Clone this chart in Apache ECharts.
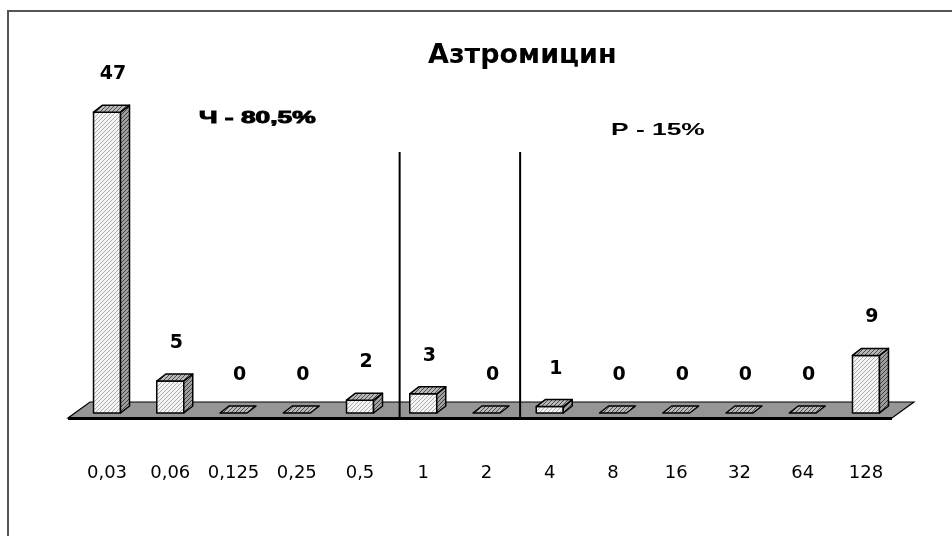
<!DOCTYPE html>
<html><head><meta charset="utf-8">
<script src="https://cdn.jsdelivr.net/npm/echarts@6/dist/echarts.min.js"></script>
<style>html,body{margin:0;padding:0;background:#fff}#c{width:952px;height:536px}</style>
</head><body><div id="c"></div>
<script>
const categories = ['0,03','0,06','0,125','0,25','0,5','1','2','4','8','16','32','64','128'];
const counts = [47, 5, 0, 0, 2, 3, 0, 1, 0, 0, 0, 0, 9];
const titleText = 'Азтромицин';
const noteS = 'Ч - 80,5%';
const noteR = 'Р - 15%';

function hatch(bg, fg, w) {
  const c = document.createElement('canvas');
  c.width = 4; c.height = 4;
  const g = c.getContext('2d');
  g.fillStyle = bg; g.fillRect(0, 0, 4, 4);
  g.strokeStyle = fg; g.lineWidth = w;
  g.beginPath();
  g.moveTo(-1, 5); g.lineTo(5, -1);
  g.moveTo(-1, 1); g.lineTo(1, -1);
  g.moveTo(3, 5); g.lineTo(5, 3);
  g.stroke();
  return { image: c, repeat: 'repeat' };
}
const frontFill = hatch('#f4f4f4', '#9c9c9c', 0.8);
const sideFill = hatch('#a0a0a0', '#333333', 0.9);
const topFill = hatch('#b8b8b8', '#404040', 0.9);

const chart = echarts.init(document.getElementById('c'));
const HW = 13.5, DX = 9, DY = 7;

chart.setOption({
  animation: false,
  backgroundColor: '#fff',
  title: {
    text: titleText, left: 428, top: 42, padding: 0,
    textStyle: { fontFamily: 'DejaVu Sans', fontWeight: 'bold', fontSize: 27, color: '#000' }
  },
  grid: { left: 75.4, right: 54.4, top: 93, bottom: 123 },
  xAxis: {
    type: 'category', data: categories, boundaryGap: true,
    axisLine: { show: false }, axisTick: { show: false }, splitLine: { show: false },
    axisLabel: { margin: 51, color: '#000', fontFamily: 'DejaVu Sans', fontSize: 18, interval: 0 }
  },
  yAxis: { type: 'value', min: 0, max: 50, show: false },
  graphic: [
    { type: 'polyline', shape: { points: [[8, 536], [8, 11], [952, 11]] },
      style: { stroke: '#555', lineWidth: 2, fill: null } },
    { type: 'text', x: 199, y: 118, scaleX: 1.55,
      style: { text: noteS, x: 0, y: 0, fill: '#000', stroke: '#000', lineWidth: 1,
        font: 'bold 17px "Liberation Sans"', verticalAlign: 'middle', align: 'left' } },
    { type: 'text', x: 611, y: 130, scaleX: 1.55,
      style: { text: noteR, x: 0, y: 0, fill: '#000',
        font: 'bold 17px "Liberation Sans"', verticalAlign: 'middle', align: 'left' } }
  ],
  series: [
    {
      type: 'custom', name: 'floor', data: [[0, 0]], z: 1, silent: true,
      renderItem: function (params, api) {
        const a = api.coord([0, 0]);
        const b = api.coord([categories.length - 1, 0]);
        const y0 = a[1];
        const fl = a[0] - 39, fr = b[0] + 26, fy = y0 + 5, by = y0 - 11, bx = 22;
        const band = api.size([1, 0])[0];
        const top = api.coord([0, 40.8])[1];
        const d1 = api.coord([4, 0])[0] + band / 2 + 8;
        const d2 = api.coord([6, 0])[0] + band / 2 + 2;
        return {
          type: 'group',
          children: [
            { type: 'polygon', shape: { points: [[fl, fy], [fr, fy], [fr + bx, by], [fl + bx, by]] },
              style: { fill: '#969696', stroke: '#000', lineWidth: 1.2 } },
            { type: 'line', shape: { x1: fl, y1: fy + 0.5, x2: fr, y2: fy + 0.5 },
              style: { stroke: '#000', lineWidth: 3 } },
            { type: 'line', z2: 50, shape: { x1: d1, y1: top, x2: d1, y2: fy + 1 },
              style: { stroke: '#000', lineWidth: 2 } },
            { type: 'line', z2: 50, shape: { x1: d2, y1: top, x2: d2, y2: fy + 1 },
              style: { stroke: '#000', lineWidth: 2 } }
          ]
        };
      }
    },
    {
      type: 'custom', name: 'count', z: 3,
      data: counts.map((v, i) => [i, v]),
      renderItem: function (params, api) {
        const i = api.value(0), v = api.value(1);
        const base = api.coord([i, 0]);
        const tp = api.coord([i, v]);
        const x = base[0], y0 = base[1], y1 = tp[1];
        const ch = [];
        const st = { stroke: '#000', lineWidth: 1.5, lineJoin: 'round' };
        if (v > 0) {
          ch.push({ type: 'rect', shape: { x: x - HW, y: y1, width: 2 * HW, height: y0 - y1 },
            style: Object.assign({ fill: frontFill }, st) });
          ch.push({ type: 'polygon', shape: { points: [[x + HW, y1], [x + HW + DX, y1 - DY], [x + HW + DX, y0 - DY], [x + HW, y0]] },
            style: Object.assign({ fill: sideFill }, st) });
        }
        ch.push({ type: 'polygon', shape: { points: [[x - HW, y1], [x - HW + DX, y1 - DY], [x + HW + DX, y1 - DY], [x + HW, y1]] },
          style: Object.assign({ fill: topFill }, st) });
        ch.push({ type: 'text', style: { text: String(v), x: x + 6, y: y1 - 38, fill: '#000',
          font: 'bold 19px "DejaVu Sans"', align: 'center', verticalAlign: 'middle' } });
        return { type: 'group', children: ch };
      }
    }
  ]
});
</script>
</body></html>
